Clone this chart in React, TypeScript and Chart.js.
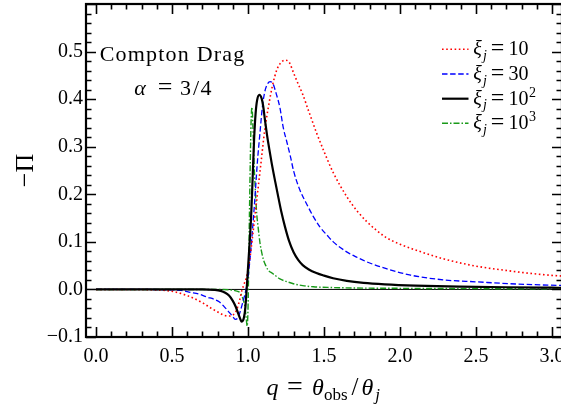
import React, { useEffect, useRef } from 'react';
import { Chart, registerables } from 'chart.js';

Chart.register(...registerables);

// ---- data: polarization -Π versus q = θobs/θj for several ξj ----
const qXi10 = [0, 0.2, 0.4, 0.5, 0.6, 0.7, 0.76, 0.81, 0.84, 0.87, 0.9, 0.925, 0.947, 0.96, 0.975, 0.99, 1.01, 1.035, 1.06, 1.085, 1.11, 1.135, 1.16, 1.19, 1.215, 1.243, 1.27, 1.3, 1.33, 1.36, 1.4, 1.45, 1.5, 1.56, 1.65, 1.72, 1.78, 1.85, 1.91, 2.0, 2.12, 2.29, 2.5, 2.72, 2.85, 2.98, 3.07];
const piXi10 = [0, 0, -0.001, -0.004, -0.013, -0.028, -0.04, -0.049, -0.054, -0.056, -0.054, -0.043, -0.02, -0.002, 0.012, 0.026, 0.06, 0.125, 0.195, 0.265, 0.335, 0.385, 0.427, 0.462, 0.476, 0.482, 0.478, 0.455, 0.432, 0.41, 0.374, 0.33, 0.29, 0.246, 0.195, 0.164, 0.143, 0.123, 0.109, 0.095, 0.081, 0.064, 0.049, 0.039, 0.034, 0.03, 0.028];

const qXi30 = [0, 0.3, 0.5, 0.56, 0.62, 0.68, 0.73, 0.78, 0.81, 0.84, 0.87, 0.895, 0.917, 0.935, 0.945, 0.958, 0.969, 0.98, 0.99, 1.0, 1.015, 1.031, 1.046, 1.061, 1.079, 1.095, 1.11, 1.125, 1.145, 1.165, 1.185, 1.21, 1.232, 1.254, 1.28, 1.3, 1.34, 1.39, 1.43, 1.474, 1.52, 1.561, 1.649, 1.72, 1.781, 1.91, 2.07, 2.29, 2.5, 2.72, 2.98, 3.07];
const piXi30 = [0, 0, -0.001, -0.002, -0.006, -0.01, -0.016, -0.021, -0.026, -0.035, -0.046, -0.055, -0.063, -0.059, -0.05, -0.036, -0.023, -0.01, 0.005, 0.025, 0.07, 0.131, 0.195, 0.265, 0.33, 0.385, 0.415, 0.43, 0.437, 0.432, 0.412, 0.382, 0.34, 0.312, 0.278, 0.249, 0.21, 0.177, 0.153, 0.131, 0.114, 0.1, 0.079, 0.067, 0.058, 0.0436, 0.03, 0.02, 0.016, 0.012, 0.009, 0.0085];

const qXi100 = [0, 0.5, 0.7, 0.78, 0.82, 0.85, 0.875, 0.9, 0.92, 0.937, 0.95, 0.958, 0.966, 0.974, 0.982, 0.99, 1.0, 1.01, 1.02, 1.03, 1.04, 1.05, 1.06, 1.075, 1.09, 1.1, 1.112, 1.125, 1.14, 1.156, 1.18, 1.2, 1.22, 1.243, 1.27, 1.3, 1.33, 1.36, 1.4, 1.45, 1.5, 1.56, 1.65, 1.76, 1.9, 2.1, 2.4, 2.7, 3.0, 3.07];
const piXi100 = [0, 0, 0, -0.001, -0.003, -0.007, -0.013, -0.024, -0.037, -0.052, -0.063, -0.0675, -0.066, -0.058, -0.04, -0.005, 0.045, 0.095, 0.15, 0.23, 0.315, 0.37, 0.398, 0.409, 0.401, 0.385, 0.355, 0.325, 0.295, 0.265, 0.225, 0.193, 0.162, 0.132, 0.102, 0.078, 0.062, 0.051, 0.042, 0.0345, 0.029, 0.0235, 0.018, 0.0138, 0.0108, 0.0082, 0.006, 0.0046, 0.0036, 0.0034];

const qXi1000 = [0, 0.8, 0.88, 0.92, 0.947, 0.965, 0.98, 0.988, 0.994, 1.0, 1.005, 1.01, 1.015, 1.02, 1.026, 1.032, 1.039, 1.048, 1.057, 1.065, 1.08, 1.09, 1.101, 1.117, 1.134, 1.16, 1.189, 1.21, 1.25, 1.298, 1.36, 1.43, 1.55, 1.7, 1.9, 2.2, 2.6, 3.07];
const piXi1000 = [0, 0, -0.001, -0.003, -0.007, -0.018, -0.037, -0.06, -0.077, -0.04, 0.06, 0.17, 0.27, 0.35, 0.383, 0.345, 0.272, 0.21, 0.16, 0.135, 0.095, 0.078, 0.063, 0.05, 0.04, 0.034, 0.027, 0.022, 0.017, 0.012, 0.008, 0.0055, 0.004, 0.003, 0.0025, 0.002, 0.0015, 0.001];

// axis ticks
const xTickValues = [0, 0.5, 1.0, 1.5, 2.0, 2.5, 3.0];
const yTickValues = [-0.1, 0, 0.1, 0.2, 0.3, 0.4, 0.5];
const X_MIN = -0.066;
const X_MAX = 3.066;
const Y_MIN = -0.1;
const Y_MAX = 0.6;

// legend labels: ξj = base, with an optional power
const legendBase = ['10', '30', '10', '10'];
const legendExp = ['', '', '2', '3'];

const SERIF = '"Liberation Serif", "Times New Roman", serif';
const CANVAS_W = 570;
const VIEW_W = 561;
const VIEW_H = 409;

const styles = [
  { color: '#ff0000', width: 1.6, dash: [1.6, 2.6] },
  { color: '#0000ff', width: 1.3, dash: [5.5, 2.6] },
  { color: '#000000', width: 2.2, dash: [] as number[] },
  { color: '#1a9a1a', width: 1.4, dash: [6, 2, 1.5, 2] },
];

const toPoints = (qs: number[], vs: number[]) => qs.map((q, i) => ({ x: q, y: vs[i] }));

function glyph(ctx: CanvasRenderingContext2D, t: string, cx: number, y: number, size: number, italic = false, align: CanvasTextAlign = 'center') {
  ctx.font = `${italic ? 'italic ' : ''}${size}px ${SERIF}`;
  ctx.textAlign = align;
  ctx.textBaseline = 'alphabetic';
  ctx.fillText(t, cx, y);
}

const decorations = {
  id: 'decorations',
  beforeDatasetsDraw(chart: any) {
    const { ctx, chartArea: a, scales } = chart;
    const y0 = scales.y.getPixelForValue(0);
    ctx.save();
    ctx.strokeStyle = '#000';
    ctx.lineWidth = 1;
    ctx.beginPath();
    ctx.moveTo(a.left, y0);
    ctx.lineTo(a.right, y0);
    ctx.stroke();
    ctx.restore();
  },
  afterDatasetsDraw(chart: any) {
    const { ctx, chartArea: a, scales } = chart;
    const xs = scales.x;
    const ys = scales.y;
    ctx.save();
    ctx.strokeStyle = '#000';
    ctx.lineCap = 'butt';
    const MAJ = 10;
    const MIN = 5.5;
    // x ticks on bottom and top
    for (let k = 0; k <= 30; k++) {
      const v = k / 10;
      const px = Math.round(xs.getPixelForValue(v)) + 0.5;
      const len = k % 5 === 0 ? MAJ : MIN;
      ctx.lineWidth = 1.6;
      ctx.beginPath();
      ctx.moveTo(px, a.bottom);
      ctx.lineTo(px, a.bottom - len);
      ctx.moveTo(px, a.top);
      ctx.lineTo(px, a.top + len);
      ctx.stroke();
    }
    // y ticks on left and right
    for (let k = 0; k <= 35; k++) {
      const v = -0.1 + k * 0.02;
      const py = Math.round(ys.getPixelForValue(v)) + 0.5;
      const len = k % 5 === 0 ? MAJ : MIN;
      ctx.lineWidth = 1.6;
      ctx.beginPath();
      ctx.moveTo(a.left, py);
      ctx.lineTo(a.left + len, py);
      ctx.moveTo(a.right, py);
      ctx.lineTo(a.right - len, py);
      ctx.stroke();
    }
    // frame
    ctx.lineWidth = 2.2;
    ctx.strokeRect(a.left, a.top, a.right - a.left, a.bottom - a.top);
    ctx.restore();
  },
  afterDraw(chart: any) {
    const { ctx, chartArea: a } = chart;
    ctx.save();
    ctx.fillStyle = '#000';

    // annotation
    ctx.font = `22px ${SERIF}`;
    (ctx as any).letterSpacing = '1.2px';
    ctx.textAlign = 'center';
    ctx.textBaseline = 'alphabetic';
    ctx.fillText('Compton Drag', 172.6, 61);
    (ctx as any).letterSpacing = '0px';
    glyph(ctx, 'α', 140, 95, 22, true);
    glyph(ctx, '=', 165, 95, 26);
    glyph(ctx, '3', 185.5, 95, 22);
    glyph(ctx, '/', 196, 95, 22);
    glyph(ctx, '4', 206, 95, 22);

    // legend
    const rowY = [49.3, 74, 98.7, 123.3];
    styles.forEach((s, i) => {
      const y = rowY[i];
      ctx.save();
      ctx.strokeStyle = s.color;
      ctx.lineWidth = s.width;
      ctx.setLineDash(s.dash);
      ctx.beginPath();
      ctx.moveTo(442, y);
      ctx.lineTo(468.5, y);
      ctx.stroke();
      ctx.restore();
      const base = y + 6;
      glyph(ctx, 'ξ', 477.5, base, 20, true);
      glyph(ctx, 'j', 485, base + 4.5, 14, true);
      glyph(ctx, '=', 497.5, base, 24);
      glyph(ctx, legendBase[i], 508.5, base, 20, false, 'left');
      if (legendExp[i]) {
        ctx.font = `20px ${SERIF}`;
        const w = ctx.measureText(legendBase[i]).width;
        glyph(ctx, legendExp[i], 508.5 + w + 0.5, base - 8, 14, false, 'left');
      }
    });

    // x-axis title: q = θobs/θj
    const xb = 395;
    glyph(ctx, 'q', 272.5, xb, 24, true);
    glyph(ctx, '=', 295, xb, 28);
    glyph(ctx, 'θ', 318, xb, 24, true);
    glyph(ctx, 'obs', 324, xb + 5, 17, false, 'left');
    glyph(ctx, '/', 355, xb, 25);
    glyph(ctx, 'θ', 367.5, xb, 24, true);
    glyph(ctx, 'j', 377.5, xb + 5, 17, true);

    // y-axis title: −Π
    ctx.save();
    ctx.translate(33, (a.top + a.bottom) / 2);
    ctx.rotate(-Math.PI / 2);
    glyph(ctx, '−Π', 0, 0, 26);
    ctx.restore();

    ctx.restore();
  },
};

const fmtTick = (v: number) => {
  const s = Math.abs(v).toFixed(1);
  return v < -1e-9 ? '\u2212' + s : s;
};

export default function App() {
  const canvasRef = useRef<HTMLCanvasElement | null>(null);

  useEffect(() => {
    document.body.style.margin = '0';
    document.body.style.overflow = 'hidden';
    const canvas = canvasRef.current;
    if (!canvas) return;

    const series = [
      toPoints(qXi10, piXi10),
      toPoints(qXi30, piXi30),
      toPoints(qXi100, piXi100),
      toPoints(qXi1000, piXi1000),
    ];
    const names = ['ξj = 10', 'ξj = 30', 'ξj = 10^2', 'ξj = 10^3'];

    const chart = new Chart(canvas, {
      type: 'line',
      data: {
        datasets: series.map((pts, i) => ({
          label: names[i],
          data: pts,
          borderColor: styles[i].color,
          borderWidth: styles[i].width,
          borderDash: styles[i].dash,
          borderCapStyle: 'butt' as const,
          pointRadius: 0,
          fill: false,
          cubicInterpolationMode: 'monotone' as const,
          order: i === 2 ? 0 : 1,
        })),
      },
      options: {
        responsive: false,
        animation: false,
        events: [],
        layout: { padding: { left: 0, right: 8, top: 4, bottom: 0 } },
        plugins: { legend: { display: false }, tooltip: { enabled: false } },
        scales: {
          x: {
            type: 'linear',
            min: X_MIN,
            max: X_MAX,
            grid: { display: false, drawTicks: false },
            border: { display: false },
            afterBuildTicks: (s: any) => {
              s.ticks = xTickValues.map((v) => ({ value: v }));
            },
            afterFit: (s: any) => {
              s.height = 72;
              s.paddingLeft = 0;
              s.paddingRight = 0;
            },
            ticks: {
              autoSkip: false,
              maxRotation: 0,
              minRotation: 0,
              padding: 8,
              color: '#000',
              font: { family: SERIF, size: 20 },
              callback: (v: any) => fmtTick(Number(v)),
            },
          },
          y: {
            type: 'linear',
            min: Y_MIN,
            max: Y_MAX,
            grid: { display: false, drawTicks: false },
            border: { display: false },
            afterBuildTicks: (s: any) => {
              s.ticks = yTickValues.map((v) => ({ value: v }));
            },
            afterFit: (s: any) => {
              s.width = 86;
              s.paddingTop = 0;
              s.paddingBottom = 0;
            },
            ticks: {
              autoSkip: false,
              padding: 3,
              color: '#000',
              font: { family: SERIF, size: 20 },
              callback: (v: any) => fmtTick(Number(v)),
            },
          },
        },
      },
      plugins: [decorations],
    });

    return () => {
      chart.destroy();
    };
  }, []);

  return (
    <div style={{ width: VIEW_W, height: VIEW_H, overflow: 'hidden', position: 'relative', background: '#fff' }}>
      <canvas ref={canvasRef} width={CANVAS_W} height={VIEW_H} style={{ display: 'block' }} />
    </div>
  );
}
